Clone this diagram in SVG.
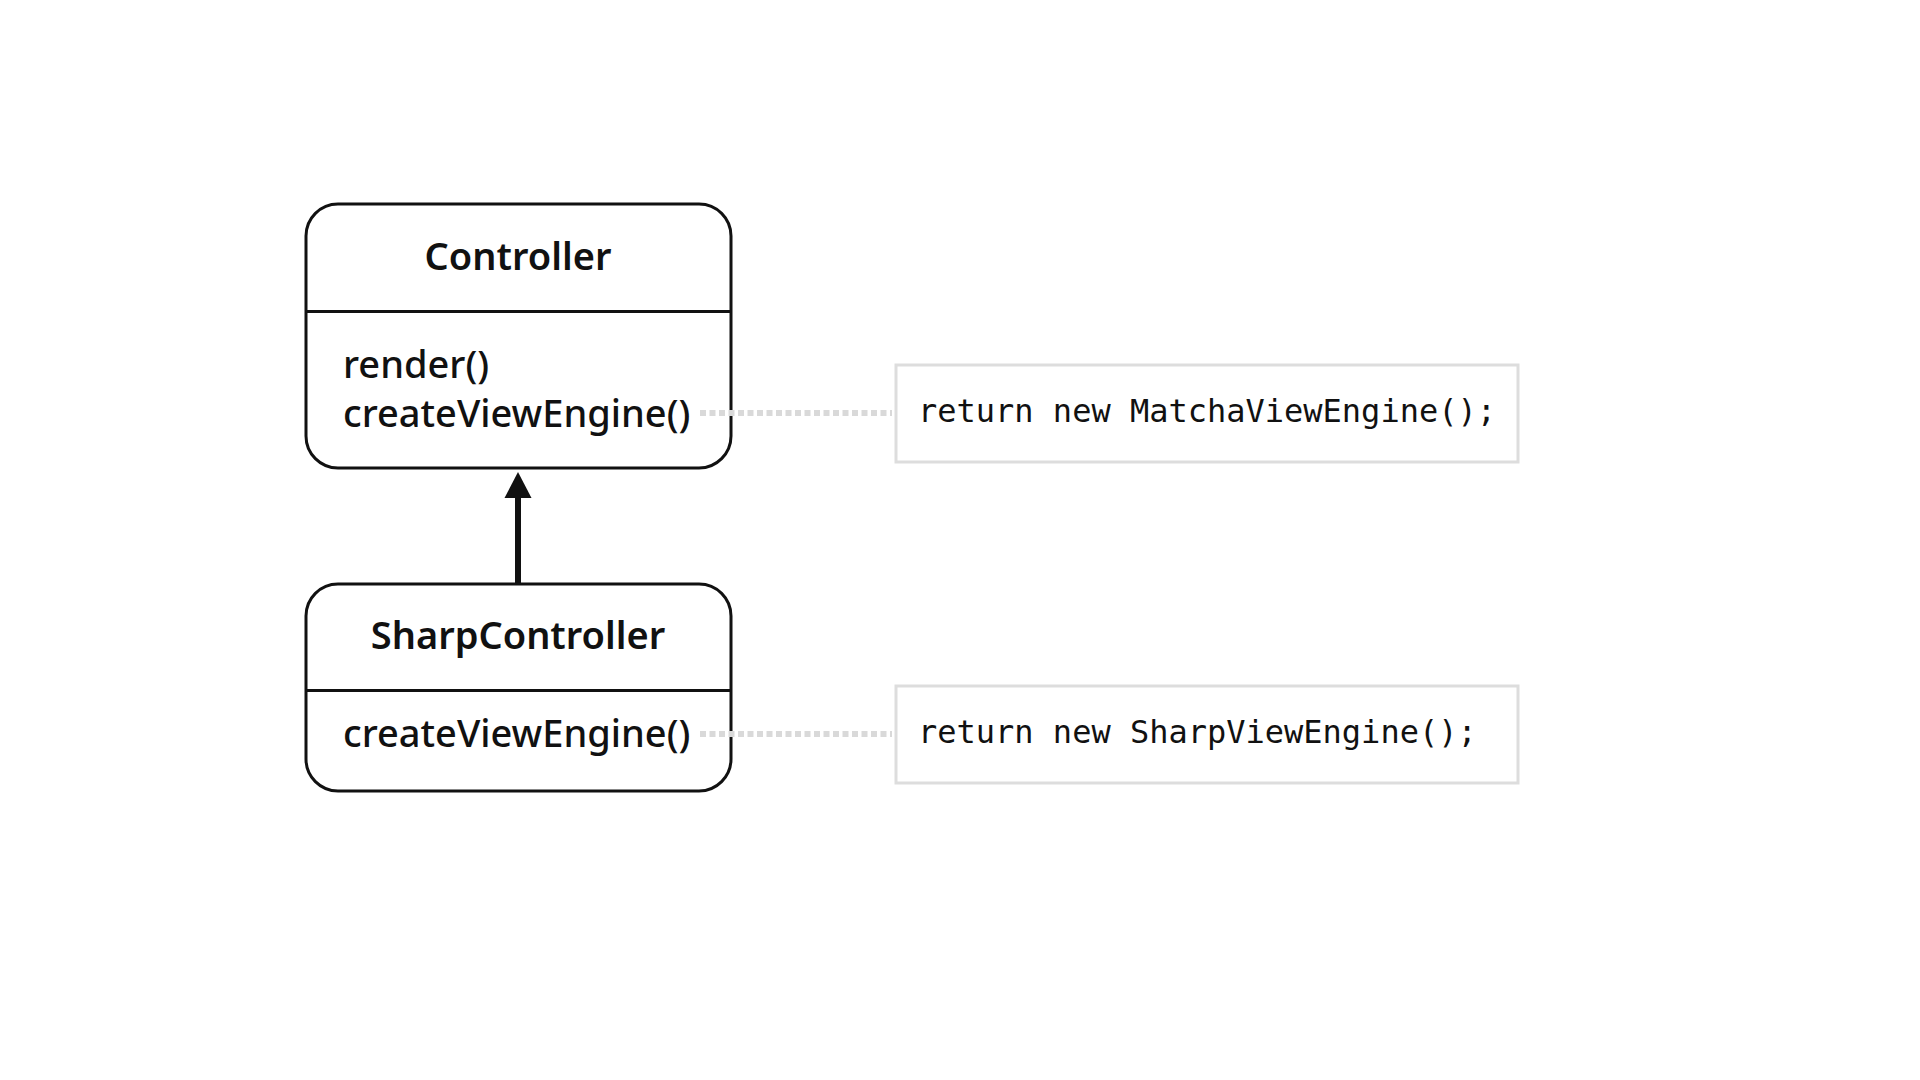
<svg xmlns="http://www.w3.org/2000/svg" width="1920" height="1080" viewBox="0 0 1920 1080">
  <style>
    .cls { fill: #fff; stroke: #111; stroke-width: 3; }
    .div { stroke: #111; stroke-width: 3; }
    .title { font-family: "Noto Sans", "Inter", sans-serif; font-size: 38px; font-weight: 600; fill: #111; text-anchor: middle; }
    .member { font-family: "Noto Sans", "Inter", sans-serif; font-size: 38px; font-weight: 500; fill: #111; }
    .note { fill: #fff; stroke: #ddd; stroke-width: 3; }
    .code { font-family: "DejaVu Sans Mono", "Liberation Mono", monospace; font-size: 32px; fill: #111; }
    .link { stroke: #d9d9d9; stroke-width: 6; stroke-dasharray: 6 3.5; fill: none; }
    .inherit { stroke: #111; stroke-width: 6; fill: none; }
  </style>
  <rect width="1920" height="1080" fill="#fff"/>

  <g id="controller">
    <rect class="cls" x="306" y="204" width="425" height="264" rx="32"/>
    <line class="div" x1="306" y1="311.5" x2="731" y2="311.5"/>
    <text class="title" x="518" y="270">Controller</text>
    <text class="member" x="343" y="378">render()</text>
    <text class="member" x="343" y="427">createViewEngine()</text>
  </g>

  <g id="sharp-controller">
    <rect class="cls" x="306" y="584" width="425" height="207" rx="32"/>
    <line class="div" x1="306" y1="690.5" x2="731" y2="690.5"/>
    <text class="title" x="518" y="649">SharpController</text>
    <text class="member" x="343" y="747">createViewEngine()</text>
  </g>

  <g id="note-matcha">
    <rect class="note" x="896" y="365" width="622" height="97"/>
    <text class="code" x="918" y="422">return new MatchaViewEngine();</text>
  </g>

  <g id="note-sharp">
    <rect class="note" x="896" y="686" width="622" height="97"/>
    <text class="code" x="918" y="743">return new SharpViewEngine();</text>
  </g>

  <g id="connectors">
    <line class="link" x1="700" y1="413" x2="892" y2="413"/>
    <line class="link" x1="700" y1="734" x2="892" y2="734"/>
    <line class="inherit" x1="518" y1="584" x2="518" y2="497"/>
    <path d="M518,472 L531.5,498 L504.5,498 Z" fill="#111"/>
  </g>
</svg>
